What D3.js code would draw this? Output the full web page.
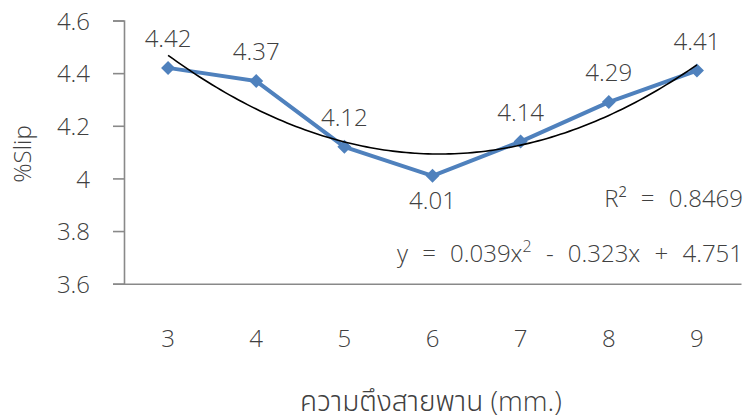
<!DOCTYPE html>
<html>
<head>
<meta charset="utf-8">
<script src="https://cdn.jsdelivr.net/npm/d3@7"></script>
<style>
  html, body { margin: 0; padding: 0; background: #fff; }
  svg { display: block; }
  text { font-family: "Open Sans", "Noto Sans Thai", "Noto Sans Thai UI", "Loma", "Garuda", "Waree", "Sarabun", "Tlwg Typo", "Noto Sans", sans-serif; fill: #404040; }
</style>
</head>
<body>
<svg id="chart" width="751" height="420"></svg>
<script>
// ---- data ----
const categories = ["3", "4", "5", "6", "7", "8", "9"];
const slipValues = [4.42, 4.37, 4.12, 4.01, 4.14, 4.29, 4.41];
const labelBelow = [false, false, false, true, false, false, false];
const yTicks = [3.6, 3.8, 4.0, 4.2, 4.4, 4.6];
const yTickLabels = ["3.6", "3.8", "4", "4.2", "4.4", "4.6"];
const yTitle = "%Slip";
const xTitle = "ความตึงสายพาน (mm.)";
const r2Text = "R² = 0.8469";
const eqParts = ["y = 0.039x", "2", " - 0.323x + 4.751"];

// ---- layout ----
const plot = { left: 124, right: 741, top: 20.5, bottom: 283.7 };
const svg = d3.select("#chart");

const x = d3.scaleBand().domain(categories).range([plot.left, plot.right]);
const y = d3.scaleLinear().domain([3.6, 4.6]).range([plot.bottom, plot.top]);
const axisColor = "#898989";

// y axis
const yAxis = d3.axisLeft(y).tickValues(yTicks)
  .tickFormat((d, i) => yTickLabels[i]).tickSize(11).tickPadding(23);
const gy = svg.append("g").attr("transform", `translate(${plot.left},0)`).call(yAxis);
gy.select(".domain").attr("stroke", axisColor).attr("stroke-width", 1.6);
gy.selectAll(".tick line").attr("stroke", axisColor).attr("stroke-width", 1.6);
gy.selectAll(".tick text").attr("font-size", 24).attr("font-weight", 300)
  .attr("fill", "#404040").attr("font-family", null).attr("dy", "0.36em");

// x axis
const xAxis = d3.axisBottom(x).tickSize(0).tickPadding(0);
const gx = svg.append("g").attr("transform", `translate(0,${plot.bottom})`).call(xAxis);
gx.select(".domain").attr("stroke", axisColor).attr("stroke-width", 1.6);
gx.selectAll(".tick text").attr("font-size", 24).attr("font-weight", 300)
  .attr("fill", "#404040").attr("font-family", null)
  .attr("y", 63).attr("dy", 0);

// axis titles
svg.append("text").attr("transform", `translate(31,154) rotate(-90)`)
  .attr("text-anchor", "middle").attr("font-size", 24).attr("font-weight", 300)
  .text(yTitle);
svg.append("text").attr("x", 431).attr("y", 411)
  .attr("text-anchor", "middle").attr("font-size", 28).attr("font-weight", 300)
  .text(xTitle);

// polynomial (order 2) least-squares trendline over category index 1..n
function polyFit2(ys) {
  const S = [0, 0, 0, 0, 0], T = [0, 0, 0];
  ys.forEach((v, i) => {
    const t = i + 1;
    for (let k = 0; k < 5; k++) S[k] += Math.pow(t, k);
    for (let k = 0; k < 3; k++) T[k] += v * Math.pow(t, k);
  });
  const A = [[S[0], S[1], S[2], T[0]], [S[1], S[2], S[3], T[1]], [S[2], S[3], S[4], T[2]]];
  for (let c = 0; c < 3; c++) {
    for (let r = c + 1; r < 3; r++) {
      const f = A[r][c] / A[c][c];
      for (let k = c; k < 4; k++) A[r][k] -= f * A[c][k];
    }
  }
  const coef = [0, 0, 0];
  for (let r = 2; r >= 0; r--) {
    let s = A[r][3];
    for (let k = r + 1; k < 3; k++) s -= A[r][k] * coef[k];
    coef[r] = s / A[r][r];
  }
  return coef; // c0 + c1 t + c2 t^2
}
const coef = polyFit2(slipValues);
const tIdx = d3.scaleLinear().domain([1, categories.length])
  .range([x(categories[0]) + x.bandwidth() / 2, x(categories[categories.length - 1]) + x.bandwidth() / 2]);
const trendPts = d3.range(1, categories.length + 0.001, 0.05)
  .map(t => [tIdx(t), y(coef[0] + coef[1] * t + coef[2] * t * t)]);

// data line
const cx = d => x(d.c) + x.bandwidth() / 2;
const pts = categories.map((c, i) => ({ c, v: slipValues[i], below: labelBelow[i] }));
const blue = "#4F81BD";
svg.append("path").datum(pts)
  .attr("fill", "none").attr("stroke", blue).attr("stroke-width", 4)
  .attr("stroke-linejoin", "round")
  .attr("d", d3.line().x(cx).y(d => y(d.v)));

// markers
svg.selectAll("path.marker").data(pts).enter().append("path")
  .attr("class", "marker")
  .attr("fill", blue)
  .attr("d", d => {
    const px = cx(d), py = y(d.v), r = 7;
    return `M${px},${py - r}L${px + r},${py}L${px},${py + r}L${px - r},${py}Z`;
  });

// trendline
svg.append("path").datum(trendPts)
  .attr("fill", "none").attr("stroke", "#000").attr("stroke-width", 1.6)
  .attr("d", d3.line().curve(d3.curveBasis));

// data labels
svg.selectAll("text.dl").data(pts).enter().append("text")
  .attr("class", "dl")
  .attr("x", cx)
  .attr("y", d => d.below ? y(d.v) + 33 : y(d.v) - 21)
  .attr("text-anchor", "middle").attr("font-size", 24).attr("font-weight", 300)
  .text(d => d.v.toFixed(2));

// equation & R²
svg.append("text").attr("x", 743).attr("y", 207).attr("text-anchor", "end")
  .attr("font-size", 24).attr("font-weight", 300).attr("word-spacing", 8)
  .attr("xml:space", "preserve").text(r2Text);
const eq = svg.append("text").attr("x", 743).attr("y", 262).attr("text-anchor", "end")
  .attr("font-size", 24).attr("font-weight", 300).attr("word-spacing", 8)
  .attr("xml:space", "preserve");
eq.append("tspan").text(eqParts[0]);
eq.append("tspan").attr("font-size", 16).attr("dy", -10).text(eqParts[1]);
eq.append("tspan").attr("dy", 10).text(eqParts[2]);
</script>
</body>
</html>
